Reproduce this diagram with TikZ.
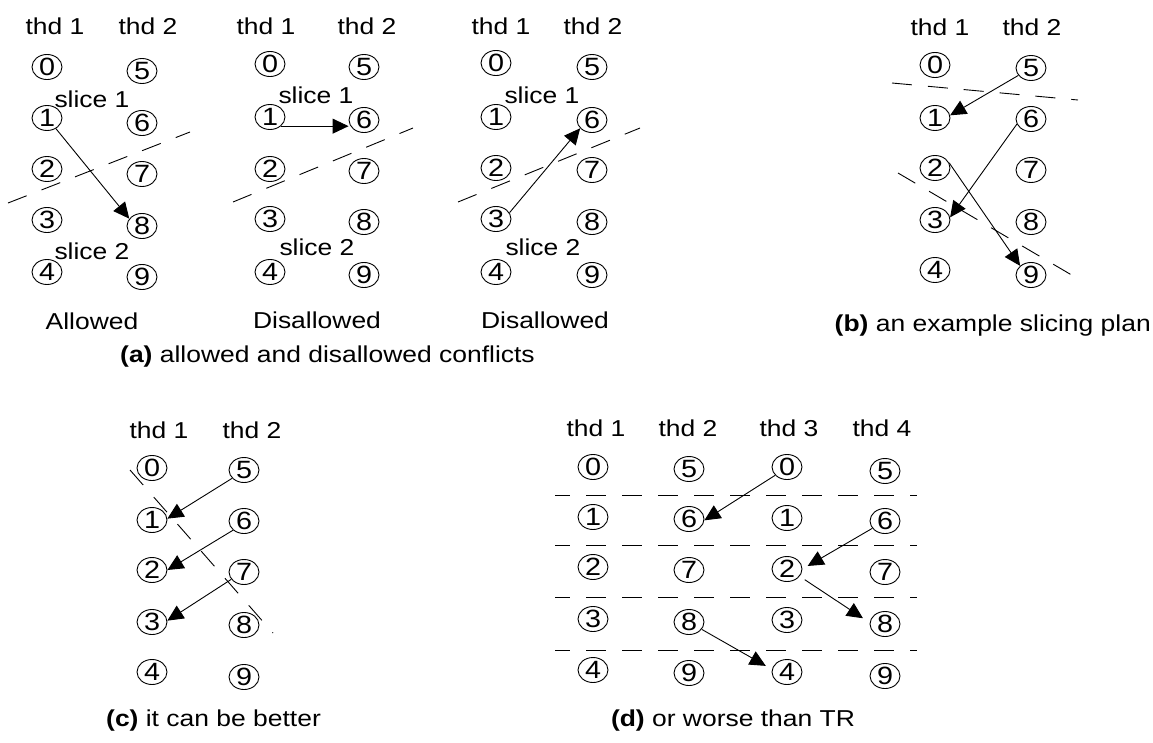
\documentclass[tikz,border=0pt]{standalone}
\usepackage{fontspec}
\setmainfont{Liberation Sans}[FakeStretch=1.15]
\usetikzlibrary{shapes.geometric,arrows.meta}
\begin{document}
\begin{tikzpicture}[x=1pt,y=-1pt,
  cn/.style={ellipse,draw,line width=0.9pt,minimum width=30pt,minimum height=25pt,inner sep=0pt,font=\fontsize{25}{28}\selectfont},
  lb/.style={inner sep=0pt,font=\fontsize{23}{26}\selectfont},
  captxt/.style={inner sep=0pt,font=\fontsize{23}{26}\selectfont},
  arr/.style={line width=0.9pt,-{Triangle[length=16pt,width=15pt]}},
  cut/.style={line width=0.9pt,dash pattern=on 20pt off 16pt}]
\useasboundingbox (0,0) rectangle (1153,742);

% ---------- panel a1 ----------
\node[lb] (a1t1) at (55,26) {thd 1};
\node[lb] (a1t2) at (148,26) {thd 2};
\foreach \d/\y in {0/67,1/118,2/169,3/220,4/272} \node[cn] (a1n\d) at (47,\y) {\d};
\foreach \d/\y in {5/71,6/123,7/174,8/226,9/277} \node[cn] (a1n\d) at (142,\y) {\d};
\node[lb] (a1s1) at (92,99) {slice 1};
\node[lb] (a1s2) at (92,251) {slice 2};
\node[lb] (a1c) at (92,321) {Allowed};
\draw[cut] (8,203) -- (190,132);
\draw[arr] (a1n1.-50) -- (a1n8.150);

% ---------- panel a2 ----------
\node[lb] (a2t1) at (266,26) {thd 1};
\node[lb] (a2t2) at (367,26) {thd 2};
\foreach \d/\y in {0/64,1/117,2/169,3/219,4/272} \node[cn] (a2n\d) at (270,\y) {\d};
\foreach \d/\y in {5/67,6/120,7/171,8/222,9/275} \node[cn] (a2n\d) at (364,\y) {\d};
\node[lb] (a2s1) at (316,95) {slice 1};
\node[lb] (a2s2) at (317,247) {slice 2};
\node[lb] (a2c) at (317,320) {Disallowed};
\draw[cut] (233,202) -- (413,128);
\draw[arr] (a2n1.-40) -- (a2n1.-40 -| a2n6.west);

% ---------- panel a3 ----------
\node[lb] (a3t1) at (501,26) {thd 1};
\node[lb] (a3t2) at (593,26) {thd 2};
\foreach \d/\y in {0/63,1/117,2/168,3/219,4/272} \node[cn] (a3n\d) at (496,\y) {\d};
\foreach \d/\y in {5/67,6/120,7/170,8/222,9/275} \node[cn] (a3n\d) at (592,\y) {\d};
\node[lb] (a3s1) at (542,95) {slice 1};
\node[lb] (a3s2) at (543,247) {slice 2};
\node[lb] (a3c) at (545,320) {Disallowed};
\draw[cut] (458,202) -- (640,128);
\draw[arr] (a3n3.25) -- (a3n6.215);

\node[captxt,anchor=west] (capa) at (120,357) {\textbf{(a)} allowed and disallowed conflicts};

% ---------- panel b ----------
\node[lb] (bt1) at (940,27) {thd 1};
\node[lb] (bt2) at (1032,27) {thd 2};
\foreach \d/\y in {0/65,1/118,2/168,3/220,4/270} \node[cn] (bn\d) at (935,\y) {\d};
\foreach \d/\y in {5/68,6/119,7/170,8/222,9/275} \node[cn] (bn\d) at (1031,\y) {\d};
\draw[cut] (892,83) -- (1078,100);
\draw[cut] (898,173) -- (1075,277);
\draw[arr] (bn5) -- (bn1.10);
\draw[arr] (bn6.200) -- (bn3.10);
\draw[arr] (bn2.20) -- (bn9.140);
\node[captxt,anchor=east] (capb) at (1151,326) {\textbf{(b)} an example slicing plan};

% ---------- panel c ----------
\node[lb] (ct1) at (159,430) {thd 1};
\node[lb] (ct2) at (252,430) {thd 2};
\foreach \d/\y in {0/468,1/520,2/570,3/622,4/672} \node[cn] (cn\d) at (152,\y) {\d};
\foreach \d/\y in {5/470,6/521,7/572,8/625,9/677} \node[cn] (cn\d) at (244,\y) {\d};
\draw[cut] (130,470) -- (273,633);
\draw[arr] (cn5.215) -- (cn1.5);
\draw[arr] (cn6.220) -- (cn2.0);
\draw[arr] (cn7.210) -- (cn3.5);
\node[captxt,anchor=west] (capc) at (106,721) {\textbf{(c)} it can be better};

% ---------- panel d ----------
\node[lb] (dt1) at (596,428) {thd 1};
\node[lb] (dt2) at (688,428) {thd 2};
\node[lb] (dt3) at (789,428) {thd 3};
\node[lb] (dt4) at (882,428) {thd 4};
\foreach \d/\y in {0/467,1/517,2/567,3/619,4/670} \node[cn] (dan\d) at (593,\y) {\d};
\foreach \d/\y in {5/469,6/519,7/570,8/622,9/673} \node[cn] (dbn\d) at (689,\y) {\d};
\foreach \d/\y in {0/467,1/518,2/569,3/620,4/672} \node[cn] (dcn\d) at (787,\y) {\d};
\foreach \d/\y in {5/471,6/521,7/572,8/624,9/676} \node[cn] (ddn\d) at (885,\y) {\d};
\foreach \y in {495,545,597,650} \draw[cut,dash phase=5pt] (555,\y) -- (917,\y);
\draw[arr] (dcn0.215) -- (dbn6.-5);
\draw[arr,shorten >=6pt] (ddn6.210) -- (dcn2.0);
\draw[arr,shorten <=6pt,shorten >=8pt] (dcn2.-30) -- (ddn8.175);
\draw[arr,shorten >=7pt] (dbn8.-30) -- (dcn4.170);
\node[captxt] (capd) at (733,721) {\textbf{(d)} or worse than TR};
\end{tikzpicture}
\end{document}
